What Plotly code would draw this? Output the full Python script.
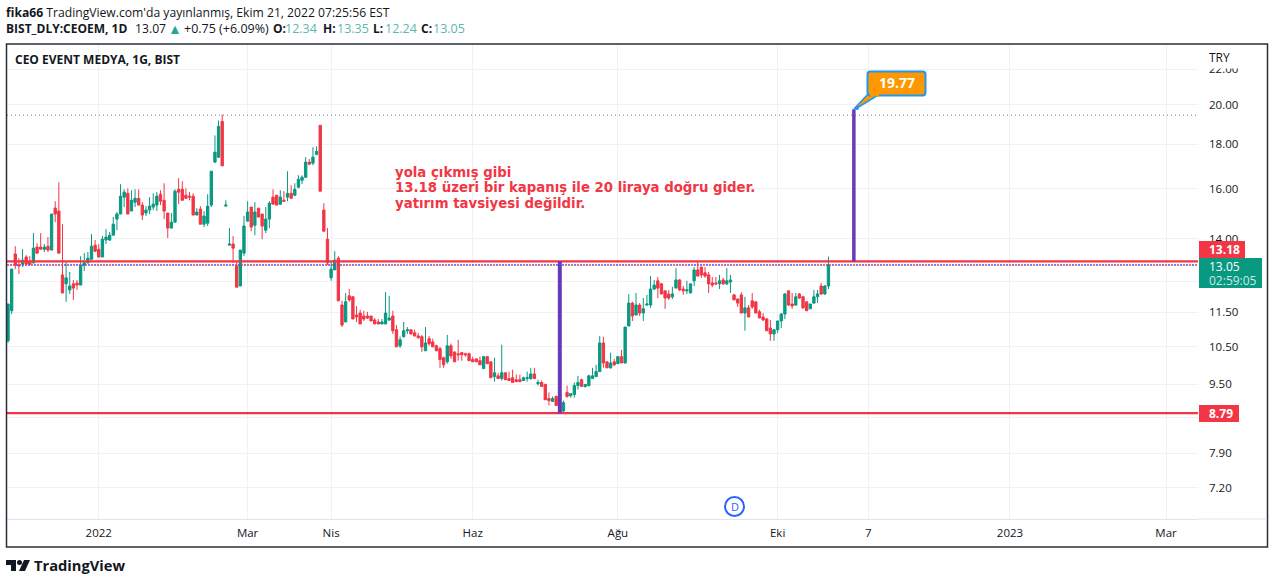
#!/usr/bin/env python3
# -*- coding:utf-8 -*-

import math

import plotly.graph_objects as go


WIDTH  = 1274
HEIGHT = 584

PLOT_LEFT   = 7
PLOT_RIGHT  = 1198
PLOT_TOP    = 44
PLOT_BOTTOM = 519

GREEN  = '#089981'
RED    = '#f23645'
PURPLE = '#673ab7'
BLUE   = '#2962ff'
DARK   = '#131722'
FRAME  = '#2a2e39'
GRID   = '#f0f1f4'
TEAL   = '#5cb8ab'
FONT   = 'Open Sans'


# daily bars, oldest first
OPENS = [
	10.66, 11.55, 13.44, 13.05, 13.08, 13.33, 13.15, 13.12, 13.69, 13.69, 13.61, 13.72, 13.58, 15.19, 15.07, 12.71,
	12.41, 12.21, 12.41, 12.44, 12.37, 13.05, 13.12, 13.25, 13.76, 13.61, 13.33, 13.95, 13.95, 14.13, 14.75, 14.95,
	15.64, 15.80, 15.07, 15.43, 15.59, 15.31, 14.99, 15.11, 15.23, 15.31, 15.76, 15.51, 14.99, 14.40, 14.63, 15.97,
	15.97, 15.72, 15.68, 15.68, 14.91, 15.15, 14.55, 14.59, 15.31, 17.17, 17.40, 19.14, 15.27, 13.76, 13.80, 13.02,
	12.34, 13.47, 14.67, 15.23, 14.51, 15.19, 14.95, 14.32, 14.75, 15.64, 15.72, 15.35, 15.51, 15.64, 15.80, 15.72,
	16.06, 16.36, 16.49, 17.17, 17.12, 17.53, 18.94, 15.11, 13.98, 12.61, 12.88, 13.29, 11.73, 11.21, 12.02, 11.99,
	11.42, 11.48, 11.39, 11.39, 11.39, 11.27, 11.21, 11.15, 11.15, 11.27, 11.39, 10.98, 10.52, 10.78, 10.95, 10.98,
	10.89, 10.80, 10.78, 10.38, 10.72, 10.63, 10.52, 10.44, 10.19, 10.08, 10.52, 10.35, 10.30, 10.33, 10.30, 10.30,
	10.14, 10.16, 10.11, 9.90, 10.22, 10.08, 9.69, 9.71, 9.64, 9.79, 9.64, 9.66, 9.61, 9.61, 9.59, 9.64,
	9.64, 9.76, 9.51, 9.54, 9.49, 9.14, 9.07, 9.19, 9.04, 8.84, 9.29, 9.21, 9.24, 9.46, 9.61, 9.44,
	9.46, 9.64, 9.69, 9.82, 10.60, 10.08, 9.92, 10.08, 10.03, 10.22, 10.05, 11.09, 11.79, 11.42, 11.73, 11.48,
	11.73, 11.73, 12.24, 12.51, 12.41, 12.18, 12.08, 11.99, 12.27, 12.54, 12.24, 12.18, 12.11, 12.51, 12.88, 12.98,
	12.78, 12.71, 12.44, 12.44, 12.41, 12.54, 12.41, 12.47, 12.05, 11.92, 12.05, 11.48, 11.64, 11.86, 11.83, 11.52,
	11.36, 11.30, 11.03, 10.86, 10.98, 11.24, 11.45, 12.18, 11.76, 11.73, 12.08, 11.99, 11.83, 11.61, 11.79, 11.99,
	12.34, 12.08, 12.34,
]
HIGHS = [
	11.76, 12.91, 13.72, 13.29, 13.61, 13.40, 13.36, 14.21, 13.83, 14.21, 13.80, 14.06, 14.95, 15.47, 16.27, 14.55,
	13.15, 12.81, 12.54, 12.54, 13.36, 13.47, 13.51, 14.17, 13.95, 13.80, 14.10, 14.36, 14.25, 14.83, 15.03, 16.19,
	15.97, 16.01, 15.93, 15.97, 15.97, 15.43, 15.27, 15.64, 15.80, 15.85, 15.93, 16.23, 14.99, 14.99, 15.97, 16.45,
	16.32, 16.01, 15.85, 15.80, 15.19, 15.27, 15.07, 15.76, 16.76, 18.44, 19.19, 19.50, 15.51, 14.40, 14.10, 13.18,
	13.58, 14.87, 15.47, 15.23, 15.43, 15.19, 14.95, 15.23, 15.47, 15.97, 15.72, 15.93, 15.89, 16.76, 16.15, 16.23,
	16.58, 16.58, 17.40, 17.31, 17.87, 17.91, 18.94, 15.39, 14.40, 13.15, 13.54, 13.36, 11.86, 12.11, 12.24, 11.99,
	11.70, 11.58, 11.55, 11.52, 11.39, 11.33, 11.30, 11.30, 12.14, 12.02, 11.55, 11.12, 10.78, 11.21, 11.06, 10.98,
	10.98, 10.89, 10.83, 11.06, 10.80, 10.72, 10.55, 10.49, 10.22, 10.83, 10.58, 10.35, 10.69, 10.35, 10.33, 10.33,
	10.22, 10.16, 10.22, 10.24, 10.22, 10.08, 10.19, 9.79, 10.55, 9.79, 9.82, 9.87, 9.74, 9.74, 9.69, 9.82,
	9.92, 9.92, 9.61, 9.59, 9.51, 9.29, 9.19, 9.21, 9.04, 9.09, 9.46, 9.26, 9.54, 9.71, 9.64, 9.49,
	9.74, 9.92, 10.00, 10.80, 10.78, 10.08, 10.33, 10.16, 10.24, 10.41, 11.06, 12.08, 11.83, 12.11, 11.79, 11.95,
	12.05, 12.67, 12.54, 12.64, 12.44, 12.18, 12.21, 12.31, 12.94, 12.57, 12.34, 12.51, 12.41, 12.98, 13.15, 12.98,
	12.98, 12.81, 12.64, 12.64, 12.71, 12.61, 12.94, 12.71, 12.08, 11.92, 12.14, 11.99, 11.73, 12.11, 11.83, 11.58,
	11.48, 11.33, 11.27, 11.00, 11.24, 11.48, 12.11, 12.18, 12.11, 12.11, 12.11, 12.02, 11.83, 11.76, 12.21, 12.21,
	12.44, 12.37, 13.35,
]
LOWS = [
	10.61, 11.45, 12.91, 12.74, 12.98, 13.05, 13.05, 13.12, 13.44, 13.61, 13.51, 13.51, 13.58, 14.63, 13.47, 12.11,
	11.83, 12.08, 11.89, 12.21, 12.37, 12.84, 13.12, 13.25, 13.51, 13.33, 13.33, 13.80, 13.91, 14.13, 14.32, 14.95,
	15.23, 14.95, 15.07, 15.23, 15.31, 14.71, 14.87, 14.95, 15.11, 15.07, 15.31, 14.75, 14.02, 14.40, 14.63, 15.35,
	15.51, 15.59, 15.51, 14.91, 14.91, 14.55, 14.44, 14.48, 15.23, 17.17, 17.36, 17.00, 15.27, 13.76, 13.12, 12.30,
	12.34, 13.36, 14.67, 14.28, 14.13, 14.83, 13.98, 14.21, 14.40, 15.35, 15.31, 15.31, 15.47, 15.47, 15.59, 15.68,
	16.01, 16.19, 16.49, 17.03, 17.03, 17.49, 15.89, 14.28, 13.05, 12.51, 12.88, 11.86, 11.06, 11.21, 11.83, 11.30,
	11.21, 11.15, 11.24, 11.30, 11.24, 11.15, 11.15, 11.15, 11.15, 11.24, 10.86, 10.49, 10.46, 10.75, 10.86, 10.83,
	10.78, 10.72, 10.35, 10.38, 10.52, 10.49, 10.38, 9.92, 9.92, 10.03, 10.16, 10.08, 10.11, 10.11, 10.22, 10.11,
	10.08, 10.08, 10.00, 9.90, 10.03, 9.66, 9.56, 9.64, 9.59, 9.61, 9.59, 9.54, 9.56, 9.56, 9.59, 9.56,
	9.61, 9.64, 9.46, 9.44, 9.11, 8.97, 9.07, 8.97, 8.79, 8.82, 9.16, 9.16, 9.16, 9.36, 9.44, 9.41,
	9.44, 9.64, 9.69, 9.82, 9.92, 9.92, 9.90, 9.97, 10.03, 10.05, 10.03, 11.09, 11.24, 11.42, 11.39, 11.24,
	11.70, 11.64, 12.21, 11.95, 12.08, 11.61, 11.89, 11.92, 12.27, 12.18, 12.05, 12.08, 12.11, 12.34, 12.67, 12.61,
	12.61, 12.11, 12.30, 12.37, 12.24, 12.37, 12.37, 12.11, 11.89, 11.67, 11.48, 10.95, 11.36, 11.61, 11.48, 11.33,
	11.24, 10.95, 10.66, 10.66, 10.89, 11.03, 11.30, 11.70, 11.61, 11.70, 11.92, 11.61, 11.55, 11.61, 11.76, 11.79,
	12.05, 12.05, 12.24,
]
CLOSES = [
	11.76, 12.91, 13.05, 13.02, 13.22, 13.08, 13.08, 13.65, 13.47, 13.61, 13.69, 13.58, 14.95, 14.95, 13.47, 12.11,
	12.61, 12.34, 12.27, 12.37, 13.05, 13.12, 13.29, 13.72, 13.54, 13.33, 13.98, 14.06, 14.13, 14.55, 14.95, 15.68,
	15.85, 14.95, 15.51, 15.59, 15.31, 14.91, 15.11, 15.27, 15.35, 15.68, 15.47, 15.07, 14.40, 14.63, 15.89, 15.85,
	15.51, 15.59, 15.64, 14.91, 15.03, 14.55, 14.87, 15.27, 16.76, 17.63, 18.89, 17.00, 15.31, 13.80, 13.65, 12.30,
	13.58, 14.48, 15.03, 14.44, 15.03, 14.83, 14.48, 14.75, 15.39, 15.35, 15.31, 15.64, 15.47, 15.80, 15.59, 15.97,
	16.40, 16.49, 17.17, 17.08, 17.40, 17.67, 15.89, 14.28, 13.12, 12.91, 13.22, 11.86, 11.12, 11.83, 11.89, 11.30,
	11.36, 11.15, 11.30, 11.33, 11.24, 11.15, 11.15, 11.21, 11.48, 11.33, 10.95, 10.49, 10.69, 10.95, 10.98, 10.86,
	10.80, 10.75, 10.49, 10.60, 10.58, 10.49, 10.38, 10.14, 10.00, 10.52, 10.24, 10.08, 10.27, 10.27, 10.27, 10.11,
	10.08, 10.08, 10.00, 10.22, 10.03, 9.66, 9.79, 9.64, 9.79, 9.61, 9.59, 9.54, 9.56, 9.56, 9.66, 9.66,
	9.76, 9.64, 9.54, 9.44, 9.11, 9.09, 9.14, 8.97, 8.82, 9.04, 9.19, 9.26, 9.46, 9.54, 9.44, 9.49,
	9.71, 9.71, 9.82, 10.60, 10.05, 9.92, 10.05, 10.00, 10.22, 10.05, 11.06, 11.79, 11.39, 11.73, 11.48, 11.61,
	11.76, 12.24, 12.37, 12.27, 12.08, 11.95, 11.95, 12.08, 12.54, 12.21, 12.18, 12.21, 12.41, 12.88, 12.67, 12.71,
	12.67, 12.41, 12.37, 12.41, 12.51, 12.41, 12.51, 12.54, 11.89, 11.79, 11.48, 11.64, 11.36, 11.67, 11.48, 11.33,
	11.27, 10.95, 10.86, 10.98, 11.24, 11.45, 12.08, 11.73, 11.70, 11.99, 11.95, 11.64, 11.55, 11.76, 11.99, 12.08,
	12.08, 12.34, 13.05,
]

PRICE_TICKS  = [22.0, 20.0, 18.0, 16.0, 14.0, 12.5, 11.5, 10.5, 9.5, 8.7, 7.9, 7.2]
# 12.50 and 8.70 only show as grid lines, the price labels sit on top of them
PRICE_LABELS = ['22.00', '20.00', '18.00', '16.00', '14.00', '', '11.50', '10.50', '9.50', '', '7.90', '7.20']
TIME_TICKS   = [25, 66, 89, 128, 168, 212, 237, 276, 319]
TIME_LABELS  = ['2022', 'Mar', 'Nis', 'Haz', 'Ağu', 'Eki', '7', '2023', 'Mar']

RESISTANCE   = 13.18
SUPPORT      = 8.79
LAST_PRICE   = 13.05
TARGET       = 19.77
HIGH_LINE    = 19.46
SWING_BARS   = [152, 233]

# visible window of the chart
BAR_RANGE    = [-0.28, 327.8]
PRICE_RANGE  = [6.628, 23.53]

NOTE_LINES = [
	'yola çıkmış gibi',
	'13.18 üzeri bir kapanış ile 20 liraya doğru gider.',
	'yatırım tavsiyesi değildir.',
]


def PaperX(px: float) -> float:
	return (px - PLOT_LEFT) / (PLOT_RIGHT - PLOT_LEFT)


def PaperY(py: float) -> float:
	return 1 - (py - PLOT_TOP) / (PLOT_BOTTOM - PLOT_TOP)


def AddText(fig, px, py, text, size=12, color=DARK, anchor='left', family=FONT) -> None:
	fig.add_annotation(
		x=PaperX(px), y=PaperY(py), xref='paper', yref='paper',
		text=text, showarrow=False, xanchor=anchor, yanchor='middle',
		font=dict(size=size, color=color, family=family),
		borderpad=0, borderwidth=0,
	)


def AddBox(fig, x0, y0, x1, y1, fill, line=None, lineWidth=0) -> None:
	fig.add_shape(
		type='rect', xref='paper', yref='paper', layer='above',
		x0=PaperX(x0), x1=PaperX(x1), y0=PaperY(y0), y1=PaperY(y1),
		fillcolor=fill, line=dict(color=line or fill, width=lineWidth),
	)


def AddRoundBox(fig, x0, y0, x1, y1, r, fill, line=None, lineWidth=0) -> None:
	def P(x, y):
		return f'{PaperX(x):.5f} {PaperY(y):.5f}'
	path = (
		f'M {P(x0 + r, y0)} L {P(x1 - r, y0)} Q {P(x1, y0)} {P(x1, y0 + r)} '
		f'L {P(x1, y1 - r)} Q {P(x1, y1)} {P(x1 - r, y1)} '
		f'L {P(x0 + r, y1)} Q {P(x0, y1)} {P(x0, y1 - r)} '
		f'L {P(x0, y0 + r)} Q {P(x0, y0)} {P(x0 + r, y0)} Z'
	)
	fig.add_shape(
		type='path', xref='paper', yref='paper', layer='above', path=path,
		fillcolor=fill, line=dict(color=line or fill, width=lineWidth),
	)


def AddPath(fig, points, fill, line=None, lineWidth=0) -> None:
	path = 'M ' + ' L '.join(f'{PaperX(x):.5f} {PaperY(y):.5f}' for x, y in points) + ' Z'
	fig.add_shape(
		type='path', xref='paper', yref='paper', layer='above', path=path,
		fillcolor=fill, line=dict(color=line or fill, width=lineWidth),
	)


def AddLevel(fig, price, color, width, dash='solid', start=BAR_RANGE[0]) -> None:
	fig.add_trace(go.Scatter(
		x=[start, BAR_RANGE[1]], y=[price, price], mode='lines', hoverinfo='skip',
		line=dict(color=color, width=width, dash=dash),
	))


def GenerateFigure() -> go.Figure:
	fig = go.Figure()

	AddLevel(fig, HIGH_LINE, '#787b86', 1, '1px,3px')
	AddLevel(fig, SUPPORT, '#787b86', 1, '1px,3px')
	AddLevel(fig, LAST_PRICE, RED, 1.5, '2px,4px')

	fig.add_trace(go.Candlestick(
		x=list(range(len(OPENS))),
		open=OPENS, high=HIGHS, low=LOWS, close=CLOSES,
		increasing=dict(line=dict(color=GREEN, width=1), fillcolor=GREEN),
		decreasing=dict(line=dict(color=RED, width=1), fillcolor=RED),
		whiskerwidth=0,
	))

	AddLevel(fig, RESISTANCE, RED, 2.2)
	AddLevel(fig, SUPPORT, RED, 2.2)

	fig.add_trace(go.Scatter(
		x=[SWING_BARS[0], SWING_BARS[0]], y=[SUPPORT, RESISTANCE],
		mode='lines', line=dict(color=PURPLE, width=4), hoverinfo='skip',
	))
	fig.add_trace(go.Scatter(
		x=[SWING_BARS[1], SWING_BARS[1]], y=[RESISTANCE, TARGET],
		mode='lines', line=dict(color=PURPLE, width=3.5), hoverinfo='skip',
	))
	# blue dots of the last price sit in the gaps of the red ones
	AddLevel(fig, LAST_PRICE, BLUE, 1.5, '2px,4px', start=BAR_RANGE[0] + 0.83)

	fig.update_layout(
		width=WIDTH, height=HEIGHT,
		margin=dict(l=PLOT_LEFT, r=WIDTH - PLOT_RIGHT, t=PLOT_TOP, b=HEIGHT - PLOT_BOTTOM, autoexpand=False),
		paper_bgcolor='#ffffff', plot_bgcolor='#ffffff',
		showlegend=False, boxgap=0.08, hovermode=False,
		font=dict(family=FONT, color=DARK, size=12),
	)
	fig.update_xaxes(
		range=BAR_RANGE, rangeslider_visible=False,
		tickmode='array', tickvals=TIME_TICKS, ticktext=TIME_LABELS,
		showgrid=True, gridcolor=GRID, gridwidth=1, zeroline=False,
		showline=True, linecolor='#e0e3eb', linewidth=1,
		ticks='', ticklabelstandoff=3, tickfont=dict(size=11.5, color=DARK),
	)
	fig.update_yaxes(
		type='log', side='right',
		range=[math.log10(PRICE_RANGE[0]), math.log10(PRICE_RANGE[1])],
		tickmode='array', tickvals=PRICE_TICKS, ticktext=PRICE_LABELS,
		showgrid=True, gridcolor=GRID, gridwidth=1, zeroline=False, showline=False,
		ticks='', ticklabelstandoff=10, tickfont=dict(size=11.5, color=DARK),
	)

	# outer frame and the axis strip on the right
	fig.add_shape(
		type='rect', xref='paper', yref='paper', layer='above',
		x0=PaperX(6.5), x1=PaperX(1267.5), y0=PaperY(44), y1=PaperY(547),
		line=dict(color=FRAME, width=1.5),
	)
	fig.add_shape(
		type='line', xref='paper', yref='paper', layer='above',
		x0=PaperX(PLOT_RIGHT), x1=PaperX(1267), y0=PaperY(519), y1=PaperY(519),
		line=dict(color='#e0e3eb', width=1),
	)

	# header
	AddText(fig, 6, 12, "<b>fika66</b> TradingView.com'da yayınlanmış, Ekim 21, 2022 07:25:56 EST", size=12.15)
	AddText(fig, 6, 29, '<b>BIST_DLY:CEOEM, 1D</b>')
	AddText(fig, 135, 29, '13.07', size=12.2)
	AddText(fig, 168, 29, '▲', size=14, color='#26a69a')
	AddText(fig, 184, 29, '+0.75 (+6.09%)', size=12.5)
	for labelX, label, valueX, value in [
		(273, 'O:', 285, '12.34'),
		(323, 'H:', 337, '13.35'),
		(373, 'L:', 385, '12.24'),
		(421, 'C:', 433, '13.05'),
	]:
		AddText(fig, labelX, 29, f'<b>{label}</b>')
		AddText(fig, valueX, 29, value, size=12.5, color=TEAL)
	AddText(fig, 15, 60, '<b>CEO EVENT MEDYA, 1G, BIST</b>')

	# note on the chart
	for py, line in zip([172, 188, 204], NOTE_LINES):
		AddText(fig, 395, py, f'<b>{line}</b>', size=13.3, color=RED, family='DejaVu Sans')

	# price labels
	AddBox(fig, 1199, 48, 1262, 68.5, '#ffffff')
	AddText(fig, 1209, 57, 'TRY')
	AddBox(fig, 1199, 241, 1245, 258, RED)
	AddText(fig, 1209, 249.5, f'<b>{RESISTANCE:.2f}</b>', color='#ffffff')
	AddBox(fig, 1199, 258, 1262, 288, GREEN)
	AddText(fig, 1209, 266, f'{LAST_PRICE:.2f}', color='#ffffff')
	AddText(fig, 1209, 280, '02:59:05', color='#cdeae4')
	AddBox(fig, 1199, 405, 1239, 422, RED)
	AddText(fig, 1209, 413.5, f'<b>{SUPPORT:.2f}</b>', color='#ffffff')

	# target callout
	AddPath(fig, [(868, 94), (880, 94), (857, 108), (854, 109)], '#ff9800', '#2196f3', 1.5)
	AddRoundBox(fig, 867.5, 71.5, 925.5, 95.5, 3, '#ff9800', '#2196f3', 2)
	AddBox(fig, 870, 92, 879, 96.5, '#ff9800')
	AddText(fig, 896.5, 82.5, f'<b>{TARGET:.2f}</b>', size=14, color='#ffffff', anchor='center')
	fig.add_shape(
		type='circle', xref='paper', yref='paper', layer='above',
		x0=PaperX(855), x1=PaperX(859), y0=PaperY(106), y1=PaperY(110),
		fillcolor='#2196f3', line=dict(color='#2196f3', width=0),
	)

	# dividend marker
	fig.add_shape(
		type='circle', xref='paper', yref='paper', layer='above',
		x0=PaperX(725), x1=PaperX(744), y0=PaperY(497), y1=PaperY(516),
		fillcolor='#ffffff', line=dict(color=BLUE, width=2),
	)
	AddText(fig, 734.5, 506.5, 'D', size=11, color=BLUE, anchor='center')

	# logo
	AddPath(fig, [(6, 560), (16, 560), (16, 571), (11, 571), (11, 565), (6, 565)], DARK)
	fig.add_shape(
		type='circle', xref='paper', yref='paper', layer='above',
		x0=PaperX(17), x1=PaperX(22), y0=PaperY(560), y1=PaperY(565),
		fillcolor=DARK, line=dict(color=DARK, width=0),
	)
	AddPath(fig, [(24, 560), (30, 560), (25, 571), (19, 571)], DARK)
	AddText(fig, 33.5, 565, '<b>TradingView</b>', size=14.7)

	return fig


def main() -> None:
	fig = GenerateFigure()
	fig.write_html(
		'out.html',
		config=dict(displayModeBar=False),
		post_script="document.body.style.margin='0';document.body.style.overflow='hidden';",
	)


if __name__ == '__main__':
	main()
